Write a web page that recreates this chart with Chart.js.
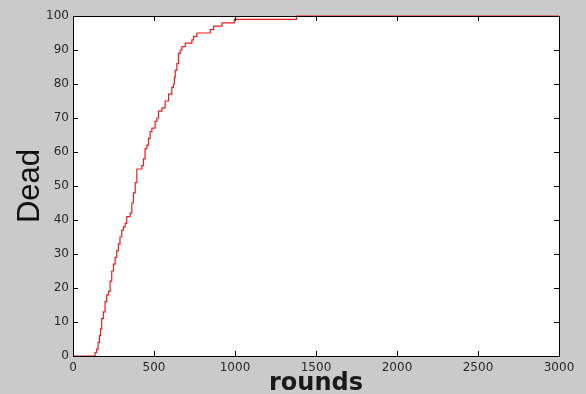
<!DOCTYPE html>
<html>
<head>
<meta charset="utf-8">
<script src="https://cdn.jsdelivr.net/npm/chart.js@4/dist/chart.umd.min.js"></script>
<style>
  html, body { margin: 0; padding: 0; background: #cacaca; }
  canvas { display: block; }
</style>
</head>
<body>
<canvas id="deadChart" width="586" height="394"></canvas>
<script>
// rounds at which the cumulative dead count steps up
const rounds = [0, 136, 146, 155, 163, 170, 177, 188, 198, 208, 219, 229, 239, 250, 260, 270, 280, 290, 301, 311,
  322, 332, 353, 363, 373, 384, 394, 425, 435, 445, 456, 466, 476, 487, 507, 518, 528, 549, 569, 590,
  610, 620, 626, 631, 641, 651, 662, 672, 693, 734, 744, 765, 847, 868, 920, 996, 1379, 3000];
const dead = [0, 1, 2, 4, 6, 8, 11, 13, 16, 18, 19, 22, 25, 27, 29, 31, 33, 35, 37, 38,
  39, 41, 42, 45, 48, 51, 55, 56, 58, 61, 62, 64, 66, 67, 69, 70, 72, 73, 75, 77,
  79, 80, 82, 84, 86, 89, 90, 91, 92, 93, 94, 95, 96, 97, 98, 99, 100, 100];

const xTicks = [0, 500, 1000, 1500, 2000, 2500, 3000];
const yTicks = [0, 10, 20, 30, 40, 50, 60, 70, 80, 90, 100];

const points = rounds.map((r, i) => ({ x: r, y: dead[i] }));

// fond gris + zone blanche
const backgroundPlugin = {
  id: 'matlabBackground',
  beforeDraw(chart) {
    const { ctx, chartArea } = chart;
    ctx.save();
    ctx.fillStyle = '#cacaca';
    ctx.fillRect(0, 0, chart.width, chart.height);
    ctx.fillStyle = '#ffffff';
    ctx.fillRect(chartArea.left, chartArea.top, chartArea.right - chartArea.left, chartArea.bottom - chartArea.top);
    ctx.restore();
  }
};

// cadre noir et graduations vers l'intérieur
const boxPlugin = {
  id: 'matlabBox',
  afterDatasetsDraw(chart) {
    const { ctx, chartArea, scales } = chart;
    const len = 5;
    ctx.save();
    ctx.strokeStyle = '#000000';
    ctx.lineWidth = 1;
    ctx.beginPath();
    scales.x.ticks.forEach(t => {
      const px = Math.round(scales.x.getPixelForValue(t.value)) + 0.5;
      ctx.moveTo(px, chartArea.bottom);
      ctx.lineTo(px, chartArea.bottom - len);
      ctx.moveTo(px, chartArea.top);
      ctx.lineTo(px, chartArea.top + len);
    });
    scales.y.ticks.forEach(t => {
      const py = Math.round(scales.y.getPixelForValue(t.value)) + 0.5;
      ctx.moveTo(chartArea.left, py);
      ctx.lineTo(chartArea.left + len, py);
      ctx.moveTo(chartArea.right, py);
      ctx.lineTo(chartArea.right - len, py);
    });
    ctx.stroke();
    ctx.strokeRect(chartArea.left + 0.5, chartArea.top + 0.5,
      chartArea.right - chartArea.left, chartArea.bottom - chartArea.top);
    ctx.restore();
  }
};

const ctx = document.getElementById('deadChart').getContext('2d');
new Chart(ctx, {
  type: 'line',
  data: {
    datasets: [{
      label: 'Dead',
      data: points,
      stepped: true,
      borderColor: '#ee1c1c',
      borderWidth: 1.2,
      pointRadius: 0,
      fill: false,
      clip: 4
    }]
  },
  options: {
    responsive: false,
    animation: false,
    events: [],
    layout: { padding: { top: 16, right: 27, left: 0, bottom: 0 } },
    plugins: {
      legend: { display: false },
      tooltip: { enabled: false }
    },
    scales: {
      x: {
        type: 'linear',
        min: 0,
        max: 3000,
        grid: { display: false, drawTicks: false },
        border: { display: false },
        afterBuildTicks: scale => { scale.ticks = xTicks.map(v => ({ value: v })); },
        afterFit: scale => { scale.height = 38; },
        ticks: {
          padding: 5,
          maxRotation: 0,
          color: '#2a2a2a',
          font: { family: 'DejaVu Sans', size: 12 },
          callback: v => String(v)
        },
        title: {
          display: true,
          text: 'rounds',
          color: '#1a1a1a',
          padding: { top: 0, bottom: 2 },
          font: { family: 'DejaVu Sans', size: 24, weight: 'bold', lineHeight: 0.7 }
        }
      },
      y: {
        min: 0,
        max: 100,
        grid: { display: false, drawTicks: false },
        border: { display: false },
        afterBuildTicks: scale => { scale.ticks = yTicks.map(v => ({ value: v })); },
        afterFit: scale => { scale.width = 73; },
        ticks: {
          padding: 4,
          color: '#2a2a2a',
          font: { family: 'DejaVu Sans', size: 12 },
          callback: v => String(v)
        },
        title: {
          display: true,
          text: 'Dead',
          color: '#111111',
          padding: { top: 12, bottom: 0 },
          font: { family: 'Liberation Sans', size: 31, lineHeight: 1.2 }
        }
      }
    }
  },
  plugins: [backgroundPlugin, boxPlugin]
});
</script>
</body>
</html>
